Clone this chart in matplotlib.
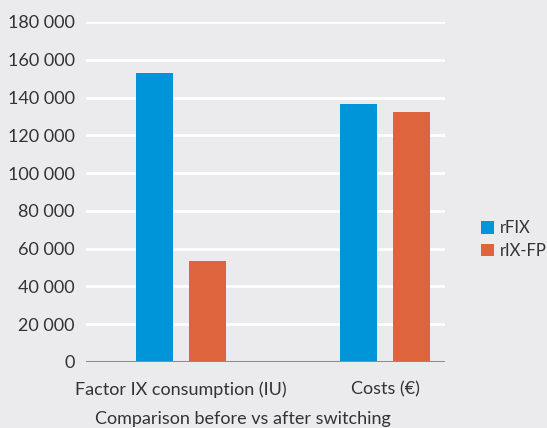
import numpy as np
import matplotlib.pyplot as plt

categories = ['Factor IX consumption (IU)', 'Costs (€)']
rfix = [153000, 136500]
rixfp = [53500, 132500]
yticks = [0, 20000, 40000, 60000, 80000, 100000, 120000, 140000, 160000, 180000]

bg = '#ebebed'
c_blue = '#0095d9'
c_orange = '#dd643c'

plt.rcParams['font.family'] = ['Lato', 'DejaVu Sans']

fig = plt.figure(figsize=(5.47, 4.28), dpi=100, facecolor=bg)
ax = fig.add_axes([86/547, 1-362/428, (445-86)/547, (362-22)/428], facecolor=bg)

x = np.arange(len(categories))
w = 0.181
ax.bar(x - 0.13, rfix, w, color=c_blue, label='rFIX', zorder=3)
ax.bar(x + 0.13, rixfp, w, color=c_orange, label='rIX-FP', zorder=3)

ax.set_xlim(-0.466, 1.294)
ax.set_ylim(0, 180000)
ax.set_yticks(yticks)
ax.set_yticklabels([f'{v:,}'.replace(',', ' ') for v in yticks])
ax.set_xticks(x)
ax.set_xticklabels(categories)
ax.tick_params(length=0, labelsize=13, colors='#333333')
ax.tick_params(axis='y', pad=8)
ax.tick_params(axis='x', pad=14)

ax.grid(axis='y', color='white', linewidth=2, zorder=0)
ax.axhline(0, color='#8c8c8c', linewidth=2.2, zorder=4)
for s in ax.spines.values():
    s.set_visible(False)

ax.set_xlabel('Comparison before vs after switching', fontsize=13, color='#333333')
ax.xaxis.set_label_coords(0.437, -0.145)

fig.legend(loc='center left', bbox_to_anchor=(481/547, 1-239.5/428), frameon=False,
           fontsize=12, handlelength=0.8, handleheight=0.8, handletextpad=0.35,
           labelspacing=0.4, borderpad=0, borderaxespad=0, labelcolor='#333333')

fig.savefig('out.png', dpi=100, facecolor=bg)
